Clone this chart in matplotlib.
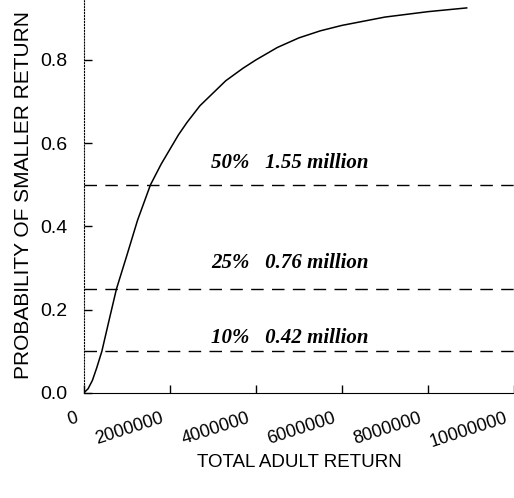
import numpy as np
import matplotlib.pyplot as plt
import matplotlib.transforms as mtransforms

# cumulative probability curve
adult_return = [0, 0.1e6, 0.2e6, 0.3e6, 0.42e6, 0.6e6, 0.76e6, 1.0e6, 1.25e6, 1.55e6,
                1.8e6, 2.0e6, 2.2e6, 2.4e6, 2.7e6, 3.0e6, 3.3e6, 3.7e6, 4.0e6, 4.5e6,
                5.0e6, 5.5e6, 6.0e6, 7.0e6, 8.0e6, 8.9e6]
prob_smaller = [0.0, 0.01, 0.03, 0.06, 0.10, 0.18, 0.25, 0.33, 0.415, 0.50,
                0.55, 0.585, 0.62, 0.65, 0.69, 0.72, 0.75, 0.78, 0.80, 0.83,
                0.853, 0.87, 0.883, 0.903, 0.916, 0.925]

levels = [0.50, 0.25, 0.10]
level_labels = ['50%   1.55 million', '25%   0.76 million', '10%   0.42 million']
label_y = [0.541, 0.30, 0.12]

xticks = [0, 2000000, 4000000, 6000000, 8000000, 10000000]
yticks = [0.0, 0.2, 0.4, 0.6, 0.8]

plt.rcParams['font.family'] = ['Liberation Sans', 'DejaVu Sans']

fig = plt.figure(figsize=(5.14, 4.98), dpi=100)
ax = fig.add_axes([0.163, 0.211, 0.837, 0.794])

ax.plot(adult_return, prob_smaller, color='black', lw=1.1)
for lv, lab, ly in zip(levels, level_labels, label_y):
    ax.axhline(lv, color='black', lw=1.0, ls=(0, (9, 6)))
    ax.text(2.96e6, ly, lab, family='Liberation Serif', style='italic',
            weight='bold', fontsize=15, ha='left', va='baseline')

ax.set_xlim(0, 10.0e6)
ax.set_ylim(0, 0.95)
ax.set_xticks(xticks)
ax.set_xticklabels([])
# tick labels drawn by hand: slanted and sitting a bit left of each tick
xlab_tr = ax.get_xaxis_transform() + mtransforms.ScaledTranslation(-9 / 100, -17 / 100, fig.dpi_scale_trans)
for t in xticks:
    ax.text(t, 0, str(t), transform=xlab_tr, rotation=18, rotation_mode='anchor',
            ha='right', va='top', fontsize=13)
ax.set_yticks(yticks)
ax.set_yticklabels(['%.1f' % t for t in yticks], fontsize=14)
ax.tick_params(direction='in', length=6, width=1)
ax.tick_params(axis='y', pad=12)

ax.spines['top'].set_visible(False)
ax.spines['right'].set_visible(False)
ax.spines['left'].set_linestyle(':')
ax.spines['left'].set_linewidth(0.8)

ax.set_xlabel('TOTAL ADULT RETURN', fontsize=13.5)
ax.xaxis.set_label_coords(0.5, -0.155)
ax.set_ylabel('PROBABILITY OF SMALLER RETURN', fontsize=15, labelpad=5)

fig.savefig('out.png', dpi=100)
